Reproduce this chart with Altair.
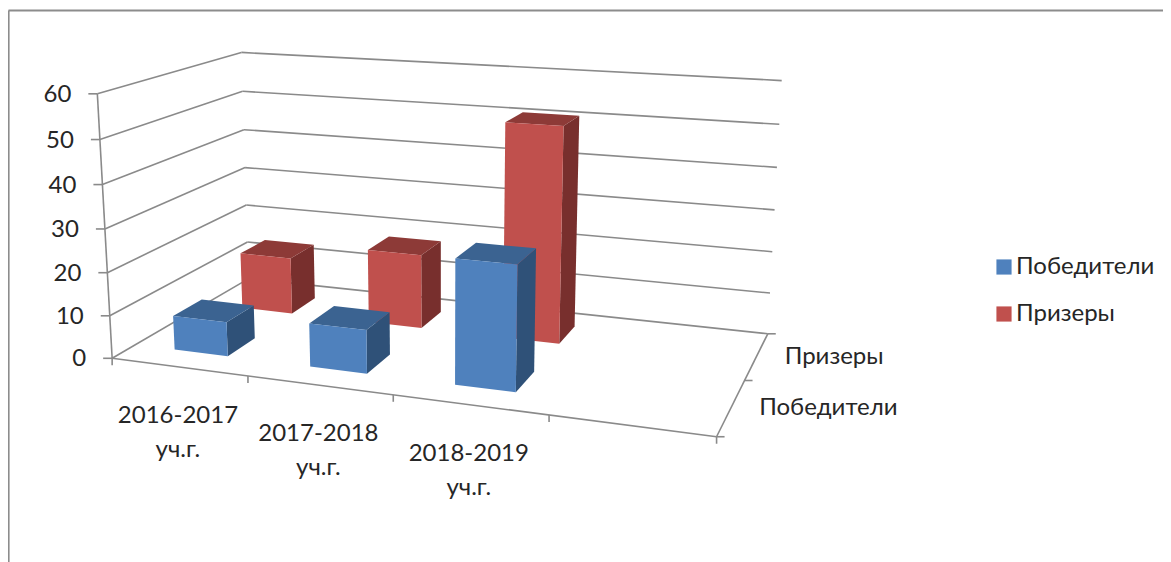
import numpy as np
import pandas as pd
import altair as alt

FONT = "Lato"
categories = ["2016-2017", "2017-2018", "2018-2019"]
category_sub = ["уч.г.", "уч.г.", "уч.г."]
series = ["Победители", "Призеры"]
winners = [8, 10, 28]
prizers = [14, 18, 51]
value_ticks = [0, 10, 20, 30, 40, 50, 60]
BLUE = {"front": "#4F81BD", "side": "#2F5178", "top": "#3B6391"}
RED = {"front": "#C0504D", "side": "#782F2D", "top": "#8D3A37"}
LINE = "#8A8A8A"
TEXT = "#262626"

# camera of the picture: model (category, series, value) -> page pixels
calib = [
    (0,0,0,113,357),(0,0,10,110,313),(0,0,20,107,272),(0,0,30,105,228),(0,0,40,102.7,183),(0,0,50,100,138),(0,0,60,97,93),
    (0,2,0,249,278),(0,2,10,247,241),(0,2,20,246,204),(0,2,30,245,167),(0,2,40,244,128),(0,2,50,242,90),(0,2,60,242,52),
    (4,2,0,767,332),(4,2,10,769.5,292),(4,2,20,772,251),(4,2,30,775,209),(4,2,40,777,167),(4,2,50,779,123),(4,2,60,782,80),
    (4,0,0,715,435),(1,0,0,248,377),(2,0,0,393,395),(3,0,0,548,415),(4,1,0,748,378),
]
A, b = [], []
for u, v, w, x, y in calib:
    A.append([u, v, w, 1, 0, 0, 0, 0, -x*u, -x*v, -x*w]); b.append(x)
    A.append([0, 0, 0, 0, u, v, w, 1, -y*u, -y*v, -y*w]); b.append(y)
P = np.append(np.linalg.lstsq(np.array(A, float), np.array(b, float), rcond=None)[0], 1).reshape(3, 4)

def proj(u, v, w):
    p = P @ np.array([u, v, w, 1.0])
    return float(p[0] / p[2]), float(p[1] / p[2]) + 1

def rule_row(a, b):
    return {"x": a[0], "y": a[1], "x2": b[0], "y2": b[1]}

# walls: gridlines, axes, ticks
rules = []
for t in value_ticks:
    rules.append(rule_row(proj(0, 0, t), proj(0, 2, t)))
    rules.append(rule_row(proj(0, 2, t), proj(4, 2, t)))
    x, y = proj(0, 0, t)
    rules.append(rule_row((x - 9, y), (x, y)))
rules.append(rule_row(proj(0, 0, 0), proj(0, 0, 60)))
rules.append(rule_row(proj(0, 0, 0), proj(4, 0, 0)))
rules.append(rule_row(proj(4, 0, 0), proj(4, 2, 0)))
for i in range(5):
    x, y = proj(i, 0, 0)
    rules.append(rule_row((x, y), (x, y + 7)))
for s in range(3):
    x, y = proj(4, s, 0)
    rules.append(rule_row((x, y), (x + 8, y)))
rules_df = pd.DataFrame(rules)

# bars as projected faces, back row first
faces = []
def add_face(name, colour, corners):
    for k, c in enumerate(corners):
        x, y = proj(*c)
        faces.append({"face": name, "k": k, "x": x, "y": y, "colour": colour})

def add_bar(i, s, val, pal):
    u0, u1, v0, v1 = i + .3, i + .7, s + .3, s + .7
    key = f"{s}-{i}-"
    add_face(key + "side", pal["side"], [(u1, v0, 0), (u1, v1, 0), (u1, v1, val), (u1, v0, val)])
    add_face(key + "top", pal["top"], [(u0, v0, val), (u1, v0, val), (u1, v1, val), (u0, v1, val)])
    add_face(key + "front", pal["front"], [(u0, v0, 0), (u1, v0, 0), (u1, v0, val), (u0, v0, val)])

for i, val in enumerate(prizers):
    add_bar(i, 1, val, RED)
for i, val in enumerate(winners):
    add_bar(i, 0, val, BLUE)
faces_df = pd.DataFrame(faces)

# text
value_df = pd.DataFrame([{"x": proj(0, 0, t)[0] - 26, "y": proj(0, 0, t)[1] + 1, "t": str(t)} for t in value_ticks])
cat_rows = []
for i, (c, sub) in enumerate(zip(categories, category_sub)):
    x, y = proj(i + .5, 0, 0)
    cat_rows.append({"x": x - 1, "y": y + 49, "t": c})
    cat_rows.append({"x": x - 1, "y": y + 83, "t": sub})
cat_df = pd.DataFrame(cat_rows)
ser_df = pd.DataFrame([{"x": proj(4, s + .5, 0)[0] + 28, "y": proj(4, s + .5, 0)[1] + 1, "t": n} for s, n in enumerate(series)])

X = alt.X("x:Q", scale=alt.Scale(domain=[8, 1163], nice=False, zero=False), axis=None)
Y = alt.Y("y:Q", scale=alt.Scale(domain=[562, 8], nice=False, zero=False), axis=None)

frame_df = pd.DataFrame([rule_row((8.5, 10.5), (1171, 10.5)), rule_row((8.5, 10.5), (8.5, 562))])
frame = alt.Chart(frame_df).mark_rule(color="#8C8C8C", strokeWidth=2.2).encode(X, Y, x2="x2:Q", y2="y2:Q")
walls = alt.Chart(rules_df).mark_rule(color=LINE, strokeWidth=1.6).encode(X, Y, x2="x2:Q", y2="y2:Q")
bars = alt.Chart(faces_df).mark_line(filled=True, interpolate="linear-closed", strokeWidth=0).encode(
    X, Y, alt.Detail("face:N"), alt.Order("k:Q"),
    color=alt.Color("colour:N", scale=None, legend=None),
)

def text_layer(df, align):
    return alt.Chart(df).mark_text(font=FONT, fontSize=24, color=TEXT, align=align, baseline="middle").encode(X, Y, text="t:N")

legend_df = pd.DataFrame({"x": [1000, 1000], "y": [300, 300], "s": series})
legend = alt.Chart(legend_df).mark_square(size=0).encode(
    X, Y,
    fill=alt.Fill("s:N", scale=alt.Scale(domain=series, range=[BLUE["front"], RED["front"]]),
        legend=alt.Legend(orient="none", legendX=984, legendY=247, title=None, symbolType="square",
                          symbolSize=230, symbolStrokeWidth=0, symbolOpacity=1, labelFont=FONT, labelFontSize=24, labelColor=TEXT,
                          rowPadding=23, labelOffset=0, labelLimit=300)),
)

chart = alt.layer(frame, walls, bars, text_layer(value_df, "right"), text_layer(cat_df, "center"),
                  text_layer(ser_df, "left"), legend).properties(
    width=1155, height=554, padding=0,
    autosize=alt.AutoSizeParams(type="none"),
    background="white",
).configure_view(stroke=None)

chart.save("out.html", embed_options={"renderer": "svg", "actions": False})
